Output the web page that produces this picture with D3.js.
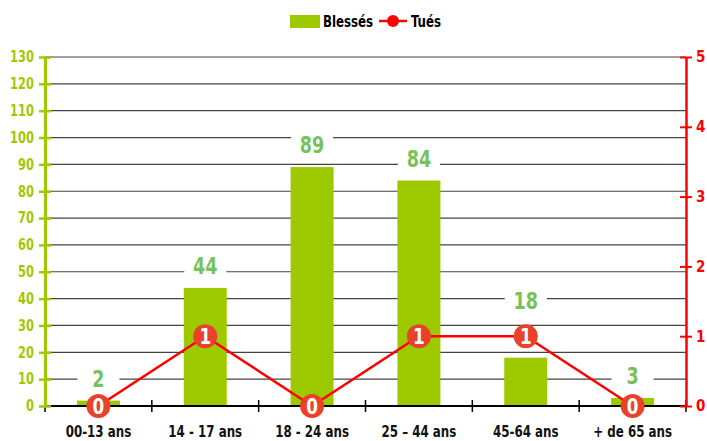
<!DOCTYPE html>
<html>
<head>
<meta charset="utf-8">
<script src="https://cdn.jsdelivr.net/npm/d3@7"></script>
<style>
  body { margin: 0; background: #fff; }
  svg text { font-family: "DejaVu Sans Condensed", "Liberation Sans Narrow", sans-serif; font-weight: bold; }
</style>
</head>
<body>
<div id="chart"></div>
<script>
const categories = ['00-13 ans', '14 - 17 ans', '18 - 24 ans', '25 – 44 ans', '45-64 ans', '+ de 65 ans'];
const blesses = [2, 44, 89, 84, 18, 3];
const tues = [0, 1, 0, 1, 1, 0];
const leftTicks = d3.range(0, 131, 10);
const rightTicks = [0, 1, 2, 3, 4, 5];

const width = 707, height = 441;
const margin = { top: 57, right: 21, bottom: 35, left: 45 };
const green = '#9dc900', labelGreen = '#79c159', red = '#ff0000', dotRed = '#e8412c';

const svg = d3.select('#chart').append('svg')
  .attr('width', width).attr('height', height);

const x = d3.scaleBand().domain(categories)
  .range([margin.left, width - margin.right]);
const y = d3.scaleLinear().domain([0, 130])
  .range([height - margin.bottom, margin.top]);
const y2 = d3.scaleLinear().domain([0, 5])
  .range([height - margin.bottom, margin.top]);
const cx = i => x(categories[i]) + x.bandwidth() / 2;

// grid
svg.append('g').selectAll('line')
  .data(leftTicks.filter(d => d > 0))
  .join('line')
  .attr('x1', margin.left).attr('x2', width - margin.right)
  .attr('y1', d => y(d)).attr('y2', d => y(d))
  .attr('stroke', '#444').attr('stroke-width', 1.2);

// bars
svg.append('g').selectAll('rect')
  .data(blesses)
  .join('rect')
  .attr('x', (d, i) => cx(i) - 21.5)
  .attr('width', 43)
  .attr('y', d => y(d))
  .attr('height', d => y(0) - y(d))
  .attr('fill', green);

// bar labels, pushed above the dot when they would collide
const labelY = (d, i) => {
  let ly = y(d) - 22;
  const dy = y2(tues[i]);
  if (Math.abs(ly - dy) < 24) ly = dy - 35;
  return ly;
};
const lab = svg.append('g').selectAll('g')
  .data(blesses)
  .join('g')
  .attr('transform', (d, i) => `translate(${cx(i)},${labelY(d, i)})`);
lab.append('rect')
  .attr('x', -21).attr('y', -11).attr('width', 42).attr('height', 22)
  .attr('fill', '#fff');
lab.append('text')
  .attr('text-anchor', 'middle').attr('dy', '0.36em')
  .attr('font-size', 23).attr('fill', labelGreen)
  .attr('transform', 'scale(0.85,1)')
  .text(d => d);

// x axis
const xAxis = svg.append('g');
xAxis.append('line')
  .attr('x1', margin.left).attr('x2', width - margin.right)
  .attr('y1', y(0)).attr('y2', y(0))
  .attr('stroke', '#000').attr('stroke-width', 2);
const bounds = categories.map(c => x(c)).concat([x.range()[1]]);
xAxis.selectAll('line.tick')
  .data(bounds)
  .join('line').attr('class', 'tick')
  .attr('x1', d => d).attr('x2', d => d)
  .attr('y1', y(0) - 6).attr('y2', y(0) + 6)
  .attr('stroke', '#000').attr('stroke-width', 1.5);
xAxis.selectAll('text')
  .data(categories)
  .join('text')
  .attr('transform', (d, i) => `translate(${cx(i)},${y(0) + 31}) scale(0.88,1)`)
  .attr('text-anchor', 'middle')
  .attr('font-size', 15).attr('fill', '#111')
  .text(d => d);

// left axis
const la = svg.append('g')
  .attr('transform', `translate(${margin.left},0)`)
  .call(d3.axisLeft(y).tickValues(leftTicks).tickSize(0).tickPadding(13));
la.select('.domain').attr('stroke', green).attr('stroke-width', 3);
la.selectAll('.tick text').attr('fill', green).attr('font-size', 15)
  .attr('transform', 'scale(0.85,1)');
la.selectAll('.tick').append('line')
  .attr('x1', -6).attr('x2', 6).attr('stroke', green).attr('stroke-width', 2.5);

// right axis
const ra = svg.append('g')
  .attr('transform', `translate(${width - margin.right},0)`)
  .call(d3.axisRight(y2).tickValues(rightTicks).tickSize(0).tickPadding(10).tickFormat(d3.format('d')));
ra.select('.domain').attr('stroke', red).attr('stroke-width', 2.5);
ra.selectAll('.tick text').attr('fill', red).attr('font-size', 15);
ra.selectAll('.tick').append('line')
  .attr('x1', -6).attr('x2', 6).attr('stroke', red).attr('stroke-width', 2);

// line
const line = d3.line()
  .x((d, i) => cx(i))
  .y(d => y2(d));
svg.append('path')
  .datum(tues)
  .attr('d', line)
  .attr('fill', 'none').attr('stroke', red).attr('stroke-width', 2.5);

const dots = svg.append('g').selectAll('g')
  .data(tues)
  .join('g')
  .attr('transform', (d, i) => `translate(${cx(i)},${y2(d)})`);
dots.append('circle').attr('r', 12).attr('fill', dotRed);
dots.append('text')
  .attr('text-anchor', 'middle').attr('dy', '0.36em')
  .attr('font-size', 22).attr('fill', '#fff')
  .attr('transform', 'scale(0.85,1)')
  .text(d => d);

// legend
const lg = svg.append('g');
lg.append('rect').attr('x', 290).attr('y', 15).attr('width', 30).attr('height', 13).attr('fill', green);
lg.append('text').attr('transform', 'translate(323,21) scale(0.82,1)').attr('dy', '0.36em')
  .attr('font-size', 16).attr('fill', '#000').text('Blessés');
lg.append('line').attr('x1', 379).attr('x2', 407).attr('y1', 21).attr('y2', 21)
  .attr('stroke', red).attr('stroke-width', 2.5);
lg.append('circle').attr('cx', 393).attr('cy', 21).attr('r', 6).attr('fill', red);
lg.append('text').attr('transform', 'translate(411,21) scale(0.82,1)').attr('dy', '0.36em')
  .attr('font-size', 16).attr('fill', '#000').text('Tués');
</script>
</body>
</html>
